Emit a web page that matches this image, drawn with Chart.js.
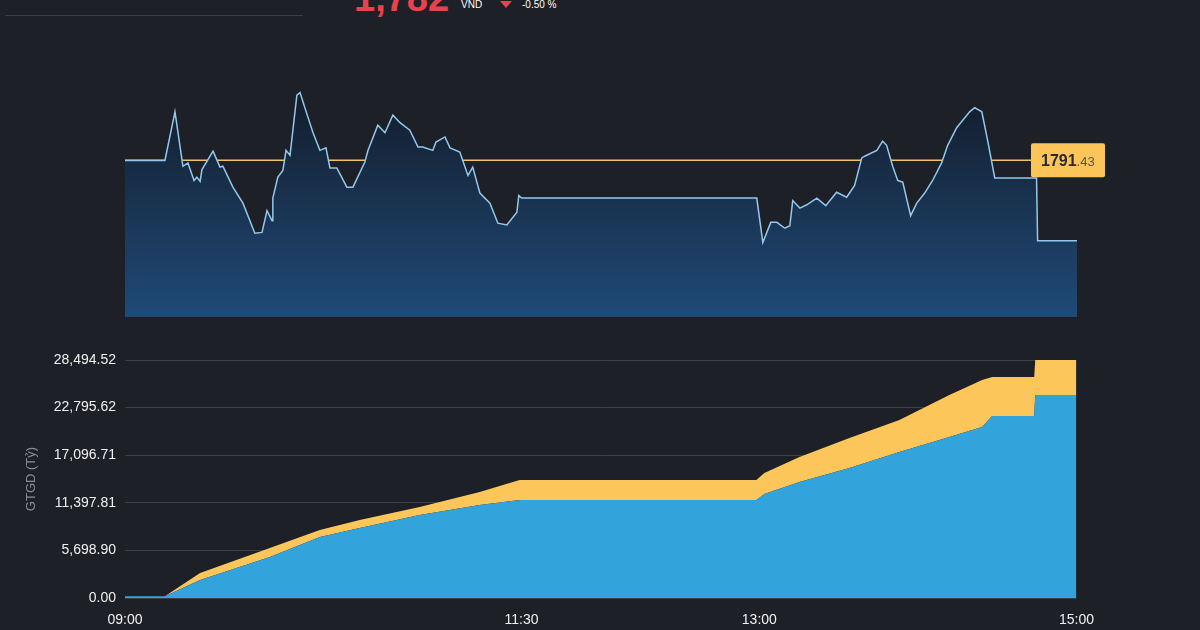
<!DOCTYPE html>
<html>
<head>
<meta charset="utf-8">
<script src="https://cdn.jsdelivr.net/npm/chart.js@4.4.1/dist/chart.umd.min.js"></script>
<style>
  body { margin:0; width:1200px; height:630px; background:#1e2027; overflow:hidden; position:relative; font-family:Arial, "Liberation Sans", sans-serif; }
  #priceWrap { position:absolute; left:125px; top:80px; width:985px; height:237px; }
  #valueWrap { position:absolute; left:0; top:340px; width:1100px; height:290px; }
  .hdr { position:absolute; color:#fff; }
</style>
</head>
<body>
<div style="position:absolute;left:5px;top:15px;width:298px;height:1px;background:#3a3d46"></div>
<div class="hdr" style="left:354px;top:-23px;font-size:38px;font-weight:bold;color:#e8424f">1,782</div>
<div class="hdr" style="left:461px;top:-1px;font-size:10px;">VND</div>
<div style="position:absolute;left:500px;top:1px;width:0;height:0;border-left:6px solid transparent;border-right:6px solid transparent;border-top:7px solid #e8424f"></div>
<div class="hdr" style="left:522px;top:-1px;font-size:10px;">-0.50 %</div>
<div id="priceWrap"><canvas id="priceCanvasId"></canvas></div>
<div id="valueWrap"><canvas id="valueCanvasId"></canvas></div>
<script>
"use strict";

// price line (minutes after 09:00, index points)
const priceMinutes = [0, 15.1, 18.9, 21.9, 23.8, 26.1, 27.2, 28.4, 29.1, 33.3, 35.9, 37.0, 40.8, 44.6, 49.1, 51.8, 53.7, 55.6, 55.9, 57.8, 59.7, 60.9, 62.4, 65.0, 66.2, 68.0, 71.1, 73.7, 76.0, 77.5, 80.1, 83.9, 86.2, 90.7, 91.9, 95.6, 98.3, 101.3, 104.0, 107.7, 110.8, 112.6, 116.4, 117.6, 121.0, 122.9, 126.6, 129.7, 131.5, 134.2, 138.0, 141.0, 144.4, 148.2, 148.9, 150.0,
  238.9, 241.2, 244.2, 246.5, 249.5, 251.4, 252.5, 255.2, 257.8, 261.6, 265.0, 269.1, 272.9, 275.9, 278.6, 279.7, 284.3, 286.5, 288.0, 290.3, 292.2, 294.1, 297.1, 299.4, 302.4, 305.4, 308.8, 311.1, 314.5, 319.4, 321.3, 324.0, 326.2, 328.9, 344.7, 345.1, 360]
const priceValues  = [1791.4, 1791.4, 1797.2, 1790.7, 1791.1, 1789.0, 1789.4, 1788.9, 1790.3, 1792.5, 1790.6, 1790.7, 1788.2, 1786.3, 1782.7, 1782.8, 1785.4, 1784.2, 1786.9, 1789.4, 1790.2, 1792.6, 1792.0, 1799.2, 1799.5, 1797.7, 1794.7, 1792.6, 1792.9, 1790.5, 1790.5, 1788.2, 1788.2, 1791.2, 1792.6, 1795.6, 1794.7, 1796.8, 1795.9, 1795.0, 1793.0, 1793.0, 1792.6, 1793.6, 1794.2, 1792.9, 1792.4, 1789.6, 1790.6, 1787.5, 1786.3, 1783.9, 1783.7, 1785.2, 1787.2, 1786.9,
  1786.9, 1781.6, 1784.0, 1784.0, 1783.3, 1783.6, 1786.6, 1785.7, 1786.1, 1786.9, 1786.0, 1787.6, 1787.0, 1788.4, 1791.7, 1791.9, 1792.6, 1793.7, 1793.2, 1790.7, 1789.0, 1788.8, 1784.8, 1786.3, 1787.5, 1789.0, 1791.1, 1793.2, 1795.3, 1797.2, 1797.7, 1797.2, 1793.8, 1789.3, 1789.3, 1781.8, 1781.8]
const refPrice = 1791.43

// trading value (GTGD, ty VND), stacked
const valueMinutes = [0, 15.1, 28.4, 54.8, 73.7, 88.8, 111.5, 134.2, 149.3, 238.9, 241.9, 255.2, 274.1, 293.0, 311.9, 324.3, 328.1, 344.0, 344.4, 360]
const blueValues   = [220, 220, 2150, 4900, 7300, 8380, 9930, 11130, 11730, 11730, 12450, 13890, 15560, 17480, 19270, 20470, 21790, 21790, 24300, 24300]
const yellowValues = [0, 0, 840, 1090, 840, 960, 960, 1560, 2390, 2390, 2510, 2990, 3590, 3830, 5030, 5620, 4660, 4660, 4194.52, 4194.52]
const valueTicks   = [0, 5698.90, 11397.81, 17096.71, 22795.62, 28494.52]
const timeTicks    = [0, 150, 240, 360]
const timeLabels   = ["09:00", "11:30", "13:00", "15:00"]

function toPoints(xs, ys) {
    return xs.map((x, i) => ({ x: x, y: ys[i] }))
}

const refLabel = {
    id: "refLabel",
    afterDraw(chart) {
        const ctx = chart.ctx
        const y = chart.scales.y.getPixelForValue(refPrice)
        const x = chart.chartArea.right - 46
        ctx.save()
        ctx.fillStyle = "#fcc55a"
        ctx.beginPath()
        ctx.roundRect(x, y - 17, 74, 34, 2)
        ctx.fill()
        ctx.fillStyle = "#2a2a2a"
        ctx.textBaseline = "middle"
        ctx.font = "bold 16px Arial"
        ctx.fillText("1791", x + 10, y + 1)
        const w = ctx.measureText("1791").width
        ctx.font = "13px Arial"
        ctx.fillStyle = "#555"
        ctx.fillText(".43", x + 10 + w, y + 2)
        ctx.restore()
    }
}

new Chart(document.getElementById("priceCanvasId"), {
    type: "line",
    data: {
        datasets: [{
            data: toPoints(priceMinutes, priceValues),
            borderColor: "#93c8ec",
            borderWidth: 1.5,
            pointRadius: 0,
            fill: "start",
            backgroundColor: (c) => {
                const a = c.chart.chartArea
                if (!a) return "#1a3a60"
                const g = c.chart.ctx.createLinearGradient(0, a.top, 0, a.bottom)
                g.addColorStop(0, "#131a26")
                g.addColorStop(1, "#1f4a78")
                return g
            }
        }, {
            data: [{ x: 0, y: refPrice }, { x: 360, y: refPrice }],
            borderColor: "#f2c461",
            borderWidth: 1.5,
            pointRadius: 0,
            fill: false
        }]
    },
    options: {
        responsive: true,
        maintainAspectRatio: false,
        animation: false,
        layout: { padding: { right: 33 } },
        plugins: { legend: { display: false }, tooltip: { enabled: false } },
        scales: {
            x: { type: "linear", min: 0, max: 360, display: false },
            y: { min: 1772.7, max: 1801, display: false }
        }
    },
    plugins: [refLabel]
})

new Chart(document.getElementById("valueCanvasId"), {
    type: "line",
    data: {
        datasets: [{
            data: toPoints(valueMinutes, blueValues),
            borderWidth: 0,
            pointRadius: 0,
            backgroundColor: "#33a3dc",
            fill: "origin"
        }, {
            data: toPoints(valueMinutes, yellowValues),
            borderWidth: 0,
            pointRadius: 0,
            backgroundColor: "#fdc65b",
            fill: "-1"
        }]
    },
    options: {
        responsive: true,
        maintainAspectRatio: false,
        animation: false,
        layout: { padding: { top: 20, right: 23, left: 24 } },
        plugins: { legend: { display: false }, tooltip: { enabled: false } },
        scales: {
            x: {
                type: "linear", min: 0, max: 360,
                grid: { display: false },
                border: { display: false },
                afterBuildTicks: (s) => { s.ticks = timeTicks.map(v => ({ value: v })) },
                afterFit: (s) => { s.height = 32 },
                ticks: {
                    color: "#f0f0f0", font: { size: 14, family: "Arial" }, padding: 6, maxRotation: 0,
                    callback: (v) => timeLabels[timeTicks.indexOf(v)]
                }
            },
            y: {
                stacked: true, min: 0, max: 28494.52,
                border: { display: false },
                grid: { color: "#3c3f47", drawTicks: false },
                afterBuildTicks: (s) => { s.ticks = valueTicks.map(v => ({ value: v })) },
                afterFit: (s) => { s.width = 101 },
                title: { display: true, text: "GTGD (Tỷ)", color: "#8a8d94", font: { size: 13, family: "Arial" }, padding: 0 },
                ticks: {
                    color: "#f0f0f0", font: { size: 14, family: "Arial" }, padding: 9,
                    callback: (v) => v.toLocaleString("en-US", { minimumFractionDigits: 2, maximumFractionDigits: 2 })
                }
            }
        }
    }
})
</script>
</body>
</html>
